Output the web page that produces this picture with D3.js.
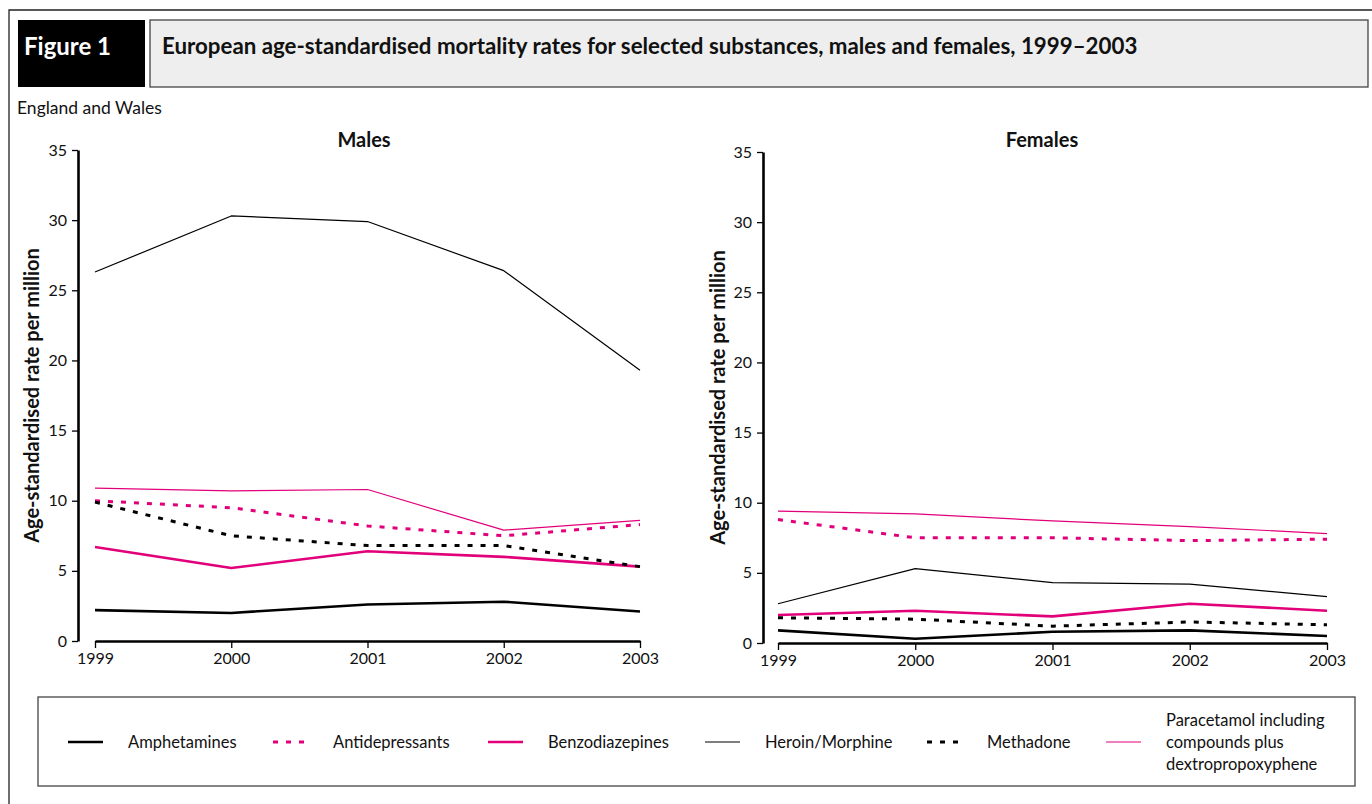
<!DOCTYPE html>
<html>
<head>
<meta charset="utf-8">
<script src="https://cdn.jsdelivr.net/npm/d3@7"></script>
<style>
  body { margin: 0; background: #fff; }
  text { font-family: Lato, "Open Sans", sans-serif; fill: #111; }
</style>
</head>
<body>
<svg id="chart"></svg>
<script>
const width = 1372;
const height = 804;
const pink = '#e2007a';

// data
const years = [1999, 2000, 2001, 2002, 2003];
const yTicks = [0, 5, 10, 15, 20, 25, 30, 35];
const substances = ['Amphetamines', 'Antidepressants', 'Benzodiazepines', 'Heroin/Morphine', 'Methadone', 'Paracetamol'];
const legendLabels = [['Amphetamines'], ['Antidepressants'], ['Benzodiazepines'], ['Heroin/Morphine'], ['Methadone'],
    ['Paracetamol including', 'compounds plus', 'dextropropoxyphene']];

const malesAmphetamines = [2.2, 2.0, 2.6, 2.8, 2.1];
const malesAntidepressants = [10.0, 9.5, 8.2, 7.5, 8.3];
const malesBenzodiazepines = [6.7, 5.2, 6.4, 6.0, 5.3];
const malesHeroin = [26.3, 30.3, 29.9, 26.4, 19.3];
const malesMethadone = [9.9, 7.5, 6.8, 6.8, 5.3];
const malesParacetamol = [10.9, 10.7, 10.8, 7.9, 8.6];

const femalesAmphetamines = [0.9, 0.3, 0.8, 0.9, 0.5];
const femalesAntidepressants = [8.8, 7.5, 7.5, 7.3, 7.4];
const femalesBenzodiazepines = [2.0, 2.3, 1.9, 2.8, 2.3];
const femalesHeroin = [2.8, 5.3, 4.3, 4.2, 3.3];
const femalesMethadone = [1.8, 1.7, 1.2, 1.5, 1.3];
const femalesParacetamol = [9.4, 9.2, 8.7, 8.3, 7.8];

// line styles per substance
const styles = {
    'Amphetamines': { color: '#000', w: 2.6, dash: null },
    'Antidepressants': { color: pink, w: 3, dash: '5,8' },
    'Benzodiazepines': { color: pink, w: 2.6, dash: null },
    'Heroin/Morphine': { color: '#000', w: 1.2, dash: null },
    'Methadone': { color: '#000', w: 3, dash: '5,8' },
    'Paracetamol': { color: pink, w: 1.2, dash: null }
};

const svg = d3.select('#chart').attr('width', width).attr('height', height);

// outer frame (cut off at right and bottom)
svg.append('path')
    .attr('d', `M9,${height + 5} V10 H${width + 5}`)
    .attr('fill', 'none').attr('stroke', '#222').attr('stroke-width', 1.3);

// header boxes
svg.append('rect').attr('x', 18).attr('y', 20).attr('width', 127).attr('height', 67).attr('fill', '#000');
svg.append('text').attr('x', 24).attr('y', 55).text('Figure 1')
    .style('fill', '#fff').style('font-weight', 'bold').style('font-size', '24px');
svg.append('rect').attr('x', 150).attr('y', 20).attr('width', 1218).attr('height', 67)
    .attr('fill', '#eeeeee').attr('stroke', '#444').attr('stroke-width', 1.3);
svg.append('text').attr('x', 162).attr('y', 54)
    .text('European age-standardised mortality rates for selected substances, males and females, 1999–2003')
    .style('font-weight', 'bold').style('font-size', '22.3px');

svg.append('text').attr('x', 17).attr('y', 114).text('England and Wales').style('font-size', '17.5px');

function drawPanel(opts) {
    const { title, axisX, x0, x1, yTop, yBottom, titleX, labelX, series } = opts;
    const x = d3.scalePoint().domain(years).range([x0, x1]);
    const y = d3.scaleLinear().domain([0, 35]).range([yBottom, yTop]);
    const g = svg.append('g');

    // y axis
    const yAxis = g.append('g')
        .attr('transform', `translate(${axisX},0)`)
        .call(d3.axisLeft(y).tickValues(yTicks).tickSize(6).tickPadding(5).tickSizeOuter(0));
    yAxis.select('.domain').attr('stroke', '#000').attr('stroke-width', 2.6);
    yAxis.selectAll('.tick line').attr('stroke', '#000').attr('stroke-width', 1.3);
    yAxis.selectAll('.tick text').style('font-size', '16px').style('font-family', 'Lato, sans-serif').attr('fill', '#111');

    // x axis
    const xAxis = g.append('g')
        .attr('transform', `translate(0,${yBottom})`)
        .call(d3.axisBottom(x).tickSize(7).tickPadding(5).tickSizeOuter(0));
    xAxis.select('.domain').attr('stroke', '#000').attr('stroke-width', 2.6);
    xAxis.selectAll('.tick line').attr('stroke', '#000').attr('stroke-width', 1.3);
    xAxis.selectAll('.tick text').style('font-size', '16px').style('font-family', 'Lato, sans-serif').attr('fill', '#111');

    g.append('text').attr('x', titleX).attr('y', 147).attr('text-anchor', 'middle')
        .text(title).style('font-weight', 'bold').style('font-size', '20px');

    g.append('text')
        .attr('transform', `translate(${labelX},${(yTop + yBottom) / 2}) rotate(-90)`)
        .attr('text-anchor', 'middle')
        .text('Age-standardised rate per million')
        .style('font-weight', 'bold').style('font-size', '20px');

    const line = d3.line().x((d, i) => x(years[i])).y(d => y(d));
    substances.forEach((s, i) => {
        const st = styles[s];
        g.append('path')
            .datum(series[i])
            .attr('d', line)
            .attr('fill', 'none')
            .attr('stroke', st.color)
            .attr('stroke-width', st.w)
            .attr('stroke-dasharray', st.dash)
            .attr('stroke-linejoin', 'round');
    });
}

drawPanel({
    title: 'Males', axisX: 78, x0: 95, x1: 640, yTop: 150, yBottom: 641, titleX: 364, labelX: 39,
    series: [malesAmphetamines, malesAntidepressants, malesBenzodiazepines, malesHeroin, malesMethadone, malesParacetamol]
});
drawPanel({
    title: 'Females', axisX: 763, x0: 778, x1: 1327, yTop: 152, yBottom: 643, titleX: 1042, labelX: 725,
    series: [femalesAmphetamines, femalesAntidepressants, femalesBenzodiazepines, femalesHeroin, femalesMethadone, femalesParacetamol]
});

// legend
svg.append('rect').attr('x', 38).attr('y', 697).attr('width', 1317).attr('height', 89)
    .attr('fill', '#fff').attr('stroke', '#444').attr('stroke-width', 1.3);
const legendX = [68, 273, 488, 705, 927, 1106];
const legendY = 742;
substances.forEach((s, i) => {
    const st = styles[s];
    const lg = svg.append('g').attr('transform', `translate(${legendX[i]},${legendY})`);
    lg.append('line').attr('x1', 0).attr('x2', 35).attr('y1', 0).attr('y2', 0)
        .attr('stroke', st.color).attr('stroke-width', st.w).attr('stroke-dasharray', st.dash);
    const lines = legendLabels[i];
    lines.forEach((t, j) => {
        lg.append('text').attr('x', 60).attr('y', 6 + (j - (lines.length - 1) / 2) * 22)
            .text(t).style('font-size', '16.5px');
    });
});
</script>
</body>
</html>
